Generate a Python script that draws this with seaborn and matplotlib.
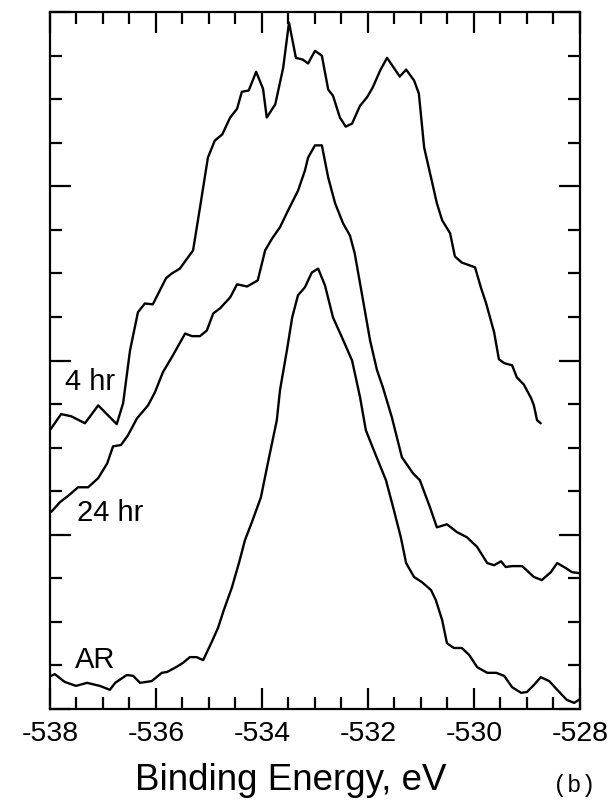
import numpy as np
import pandas as pd
import matplotlib
matplotlib.use("Agg")
import matplotlib.pyplot as plt
import seaborn as sns
from matplotlib.ticker import MultipleLocator

# O 1s spectra (binding energy in eV, intensity in arbitrary units)
be_4hr = [-537.99, -537.79, -537.60, -537.34, -537.09, -536.74, -536.62, -536.49, -536.34, -536.21,
          -536.06, -535.81, -535.70, -535.55, -535.30, -535.17, -535.02, -534.89, -534.75, -534.60,
          -534.47, -534.38, -534.25, -534.11, -533.98, -533.91, -533.75, -533.60, -533.49, -533.36,
          -533.23, -533.13, -533.00, -532.87, -532.75, -532.66, -532.53, -532.42, -532.30, -532.15,
          -532.02, -531.91, -531.77, -531.64, -531.40, -531.28, -531.13, -531.04, -530.94, -530.81,
          -530.70, -530.60, -530.45, -530.36, -530.23, -529.98, -529.87, -529.77, -529.62, -529.53,
          -529.43, -529.28, -529.19, -529.06, -528.92, -528.87, -528.81, -528.74]
int_4hr = [6.42, 6.77, 6.72, 6.56, 6.97, 6.54, 7.02, 8.23, 9.11, 9.31,
           9.29, 9.89, 10.00, 10.11, 10.53, 11.51, 12.66, 13.05, 13.19, 13.58,
           13.78, 14.17, 14.20, 14.63, 14.24, 13.58, 13.88, 14.72, 15.76, 14.95,
           14.91, 14.82, 15.11, 15.00, 14.22, 14.08, 13.58, 13.37, 13.44, 13.85,
           14.04, 14.27, 14.66, 14.95, 14.52, 14.68, 14.43, 14.13, 12.89, 12.20,
           11.61, 11.22, 10.92, 10.39, 10.25, 10.14, 9.68, 9.31, 8.65, 8.03,
           7.94, 7.89, 7.61, 7.45, 7.13, 6.97, 6.63, 6.56]

be_24hr = [-537.98, -537.81, -537.66, -537.47, -537.28, -537.09, -536.92, -536.81, -536.66, -536.53,
           -536.36, -536.15, -536.02, -535.87, -535.68, -535.45, -535.32, -535.17, -535.04, -534.92,
           -534.79, -534.60, -534.47, -534.28, -534.08, -533.94, -533.81, -533.66, -533.51, -533.32,
           -533.19, -533.13, -533.00, -532.87, -532.75, -532.62, -532.47, -532.34, -532.25, -532.11,
           -531.96, -531.83, -531.72, -531.55, -531.36, -531.15, -531.02, -530.83, -530.70, -530.51,
           -530.32, -530.13, -529.94, -529.75, -529.62, -529.49, -529.40, -529.28, -529.09, -528.87,
           -528.72, -528.55, -528.43, -528.26, -528.15, -528.02]
int_24hr = [4.52, 4.75, 4.89, 5.09, 5.09, 5.30, 5.64, 6.03, 6.06, 6.28,
            6.67, 6.97, 7.27, 7.73, 8.12, 8.62, 8.56, 8.56, 8.69, 9.08,
            9.20, 9.45, 9.75, 9.70, 9.84, 10.53, 10.80, 11.06, 11.44, 11.90,
            12.36, 12.66, 12.94, 12.94, 12.20, 11.61, 11.15, 10.87, 10.46, 9.50,
            8.46, 7.78, 7.39, 6.70, 5.78, 5.41, 5.25, 4.63, 4.17, 4.24,
            4.06, 3.94, 3.72, 3.35, 3.30, 3.39, 3.26, 3.28, 3.28, 3.03,
            2.96, 3.14, 3.35, 3.23, 3.14, 3.12]

be_ar = [-537.98, -537.91, -537.72, -537.51, -537.30, -537.06, -536.87, -536.77, -536.55, -536.43,
         -536.30, -536.08, -535.89, -535.79, -535.62, -535.49, -535.36, -535.23, -535.11, -534.94,
         -534.83, -534.72, -534.57, -534.43, -534.32, -534.19, -534.02, -533.89, -533.72, -533.66,
         -533.53, -533.43, -533.32, -533.19, -533.06, -532.94, -532.81, -532.66, -532.49, -532.30,
         -532.15, -532.04, -531.89, -531.66, -531.51, -531.38, -531.28, -531.13, -530.98, -530.81,
         -530.72, -530.60, -530.51, -530.38, -530.23, -530.09, -529.94, -529.75, -529.58, -529.43,
         -529.28, -529.11, -529.00, -528.87, -528.74, -528.58, -528.43, -528.25, -528.11, -528.02]
int_ar = [0.76, 0.80, 0.62, 0.53, 0.60, 0.53, 0.44, 0.60, 0.78, 0.76,
          0.60, 0.64, 0.83, 0.85, 0.96, 1.06, 1.19, 1.19, 1.12, 1.56,
          1.86, 2.27, 2.78, 3.37, 3.88, 4.29, 4.86, 5.64, 6.63, 7.32,
          8.23, 8.99, 9.50, 9.68, 10.02, 10.11, 9.72, 8.99, 8.53, 8.00,
          7.16, 6.40, 5.94, 5.25, 4.56, 3.94, 3.35, 3.03, 2.91, 2.73,
          2.50, 2.04, 1.51, 1.40, 1.40, 1.24, 0.96, 0.83, 0.83, 0.76,
          0.50, 0.37, 0.39, 0.55, 0.73, 0.64, 0.44, 0.21, 0.14, 0.21]

xticks = [-538, -536, -534, -532, -530, -528]

df = pd.concat([
    pd.DataFrame({"be": be_4hr, "intensity": int_4hr, "sample": "4 hr"}),
    pd.DataFrame({"be": be_24hr, "intensity": int_24hr, "sample": "24 hr"}),
    pd.DataFrame({"be": be_ar, "intensity": int_ar, "sample": "AR"}),
])

sns.set_style("ticks")
plt.rcParams['font.family'] = ['Liberation Sans', 'DejaVu Sans']
plt.rcParams['text.color'] = 'black'
plt.rcParams['axes.labelcolor'] = 'black'
plt.rcParams['xtick.color'] = 'black'
plt.rcParams['ytick.color'] = 'black'

fig = plt.figure(figsize=(6.08, 8.01), dpi=100)
ax = fig.add_axes([0.0822, 0.1149, 0.8717, 0.870])

for name in ["4 hr", "24 hr", "AR"]:
    sns.lineplot(data=df[df["sample"] == name], x="be", y="intensity",
                 color="black", lw=1.7, sort=False, ax=ax, legend=False)

ax.set_xlim(-538, -528)
ax.set_ylim(0, 16)
ax.set_xticks(xticks)
ax.set_xticklabels([str(t) for t in xticks])
ax.xaxis.set_minor_locator(MultipleLocator(0.5))
ax.yaxis.set_major_locator(MultipleLocator(4))
ax.yaxis.set_minor_locator(MultipleLocator(1))
ax.tick_params(which="both", direction="in", top=True, right=True,
               width=1.6, color="black")
ax.tick_params(which="major", length=15, labelsize=20.5, pad=9)
ax.tick_params(which="minor", length=8.5)
ax.tick_params(axis="y", labelleft=False)
for s in ax.spines.values():
    s.set_linewidth(1.6)
    s.set_color("black")

ax.set_xlabel("Binding Energy, eV", fontsize=26.5)
ax.xaxis.set_label_coords(0.455, -0.078)
ax.set_ylabel("")

ax.text(-537.72, 7.5, "4 hr", fontsize=21, va="center", ha="left")
ax.text(-537.49, 4.5, "24 hr", fontsize=21, va="center", ha="left")
ax.text(-537.53, 1.12, "AR", fontsize=21, va="center", ha="left")

fig.text(0.945, 0.019, "(b)", fontsize=17, family="Liberation Mono",
         ha="center", va="center")

fig.savefig("out.png", dpi=100)
